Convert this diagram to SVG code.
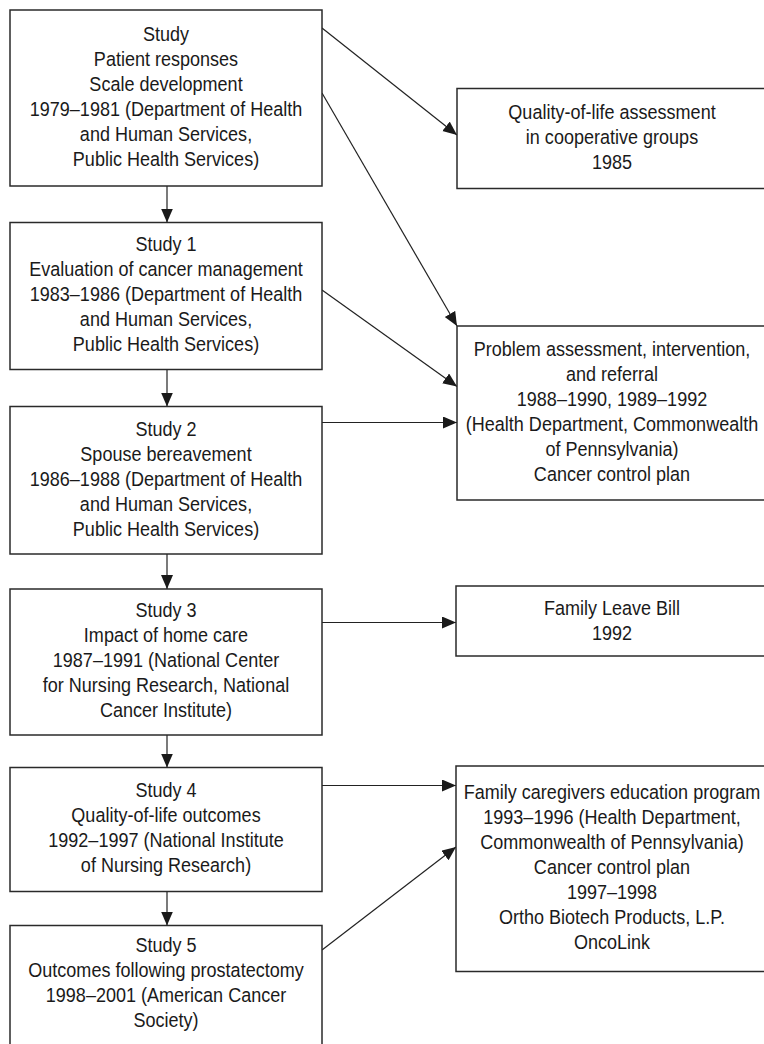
<svg xmlns="http://www.w3.org/2000/svg" width="764" height="1044" viewBox="0 0 764 1044">
<defs>
<style>
.box{fill:#fff;stroke:#2a2a2a;stroke-width:1.5}
.lbl{font-family:"Liberation Sans",Arial,sans-serif;font-size:19.5px;fill:#1a1a1a;text-anchor:middle}
.conn{fill:none;stroke:#222;stroke-width:1.2}
</style>
<marker id="ah" markerUnits="userSpaceOnUse" markerWidth="15" markerHeight="13" refX="14" refY="6" orient="auto">
<path d="M0,0 L14,6 L0,12 Z" fill="#1a1a1a"/>
</marker>
</defs>
<rect width="764" height="1044" fill="#fff"/>

<g id="connectors">
<line class="conn" x1="167" y1="186" x2="167" y2="222.5" marker-end="url(#ah)"/>
<line class="conn" x1="167" y1="369.5" x2="167" y2="406.5" marker-end="url(#ah)"/>
<line class="conn" x1="167" y1="554" x2="167" y2="589" marker-end="url(#ah)"/>
<line class="conn" x1="167" y1="735" x2="167" y2="767.5" marker-end="url(#ah)"/>
<line class="conn" x1="167" y1="891.5" x2="167" y2="925.5" marker-end="url(#ah)"/>
<line class="conn" x1="322" y1="28" x2="457" y2="135" marker-end="url(#ah)"/>
<line class="conn" x1="322" y1="93" x2="457" y2="326" marker-end="url(#ah)"/>
<line class="conn" x1="322" y1="290" x2="457" y2="386.5" marker-end="url(#ah)"/>
<line class="conn" x1="322" y1="422.5" x2="457" y2="422.5" marker-end="url(#ah)"/>
<line class="conn" x1="322" y1="622.5" x2="456" y2="622.5" marker-end="url(#ah)"/>
<line class="conn" x1="322" y1="785.5" x2="456" y2="785.5" marker-end="url(#ah)"/>
<line class="conn" x1="322" y1="950" x2="456" y2="847" marker-end="url(#ah)"/>
</g>

<g id="study0">
<rect class="box" x="10" y="10" width="312" height="176"/>
<g transform="translate(166 0) scale(0.925 1)">
<text class="lbl" y="41"><tspan x="0">Study</tspan><tspan x="0" dy="25">Patient responses</tspan><tspan x="0" dy="25">Scale development</tspan><tspan x="0" dy="25">1979–1981 (Department of Health</tspan><tspan x="0" dy="25">and Human Services,</tspan><tspan x="0" dy="25">Public Health Services)</tspan></text>
</g>
</g>

<g id="study1">
<rect class="box" x="10" y="222.5" width="312" height="147"/>
<g transform="translate(166 0) scale(0.925 1)">
<text class="lbl" y="251.5"><tspan x="0">Study 1</tspan><tspan x="0" dy="25">Evaluation of cancer management</tspan><tspan x="0" dy="25">1983–1986 (Department of Health</tspan><tspan x="0" dy="25">and Human Services,</tspan><tspan x="0" dy="25">Public Health Services)</tspan></text>
</g>
</g>

<g id="study2">
<rect class="box" x="10" y="406.5" width="312" height="147.5"/>
<g transform="translate(166 0) scale(0.925 1)">
<text class="lbl" y="436"><tspan x="0">Study 2</tspan><tspan x="0" dy="25">Spouse bereavement</tspan><tspan x="0" dy="25">1986–1988 (Department of Health</tspan><tspan x="0" dy="25">and Human Services,</tspan><tspan x="0" dy="25">Public Health Services)</tspan></text>
</g>
</g>

<g id="study3">
<rect class="box" x="10" y="589" width="312" height="146"/>
<g transform="translate(166 0) scale(0.925 1)">
<text class="lbl" y="617.5"><tspan x="0">Study 3</tspan><tspan x="0" dy="25">Impact of home care</tspan><tspan x="0" dy="25">1987–1991 (National Center</tspan><tspan x="0" dy="25">for Nursing Research, National</tspan><tspan x="0" dy="25">Cancer Institute)</tspan></text>
</g>
</g>

<g id="study4">
<rect class="box" x="10" y="767.5" width="312" height="124"/>
<g transform="translate(166 0) scale(0.925 1)">
<text class="lbl" y="797.5"><tspan x="0">Study 4</tspan><tspan x="0" dy="25">Quality-of-life outcomes</tspan><tspan x="0" dy="25">1992–1997 (National Institute</tspan><tspan x="0" dy="25">of Nursing Research)</tspan></text>
</g>
</g>

<g id="study5">
<rect class="box" x="10" y="925.5" width="312" height="125"/>
<g transform="translate(166 0) scale(0.925 1)">
<text class="lbl" y="952"><tspan x="0">Study 5</tspan><tspan x="0" dy="25">Outcomes following prostatectomy</tspan><tspan x="0" dy="25">1998–2001 (American Cancer</tspan><tspan x="0" dy="25">Society)</tspan></text>
</g>
</g>

<g id="qol-assessment">
<rect class="box" x="457" y="88.5" width="312" height="100"/>
<g transform="translate(612 0) scale(0.925 1)">
<text class="lbl" y="119.5"><tspan x="0">Quality-of-life assessment</tspan><tspan x="0" dy="25">in cooperative groups</tspan><tspan x="0" dy="25">1985</tspan></text>
</g>
</g>

<g id="problem-assessment">
<rect class="box" x="457" y="326" width="312" height="174"/>
<g transform="translate(612 0) scale(0.925 1)">
<text class="lbl" y="356"><tspan x="0">Problem assessment, intervention,</tspan><tspan x="0" dy="25">and referral</tspan><tspan x="0" dy="25">1988–1990, 1989–1992</tspan><tspan x="0" dy="25">(Health Department, Commonwealth</tspan><tspan x="0" dy="25">of Pennsylvania)</tspan><tspan x="0" dy="25">Cancer control plan</tspan></text>
</g>
</g>

<g id="family-leave">
<rect class="box" x="456" y="586" width="312" height="70"/>
<g transform="translate(612 0) scale(0.925 1)">
<text class="lbl" y="615"><tspan x="0">Family Leave Bill</tspan><tspan x="0" dy="25">1992</tspan></text>
</g>
</g>

<g id="caregivers-program">
<rect class="box" x="456" y="766" width="312" height="205.5"/>
<g transform="translate(612 0) scale(0.925 1)">
<text class="lbl" y="799"><tspan x="0">Family caregivers education program</tspan><tspan x="0" dy="25">1993–1996 (Health Department,</tspan><tspan x="0" dy="25">Commonwealth of Pennsylvania)</tspan><tspan x="0" dy="25">Cancer control plan</tspan><tspan x="0" dy="25">1997–1998</tspan><tspan x="0" dy="25">Ortho Biotech Products, L.P.</tspan><tspan x="0" dy="25">OncoLink</tspan></text>
</g>
</g>
</svg>
